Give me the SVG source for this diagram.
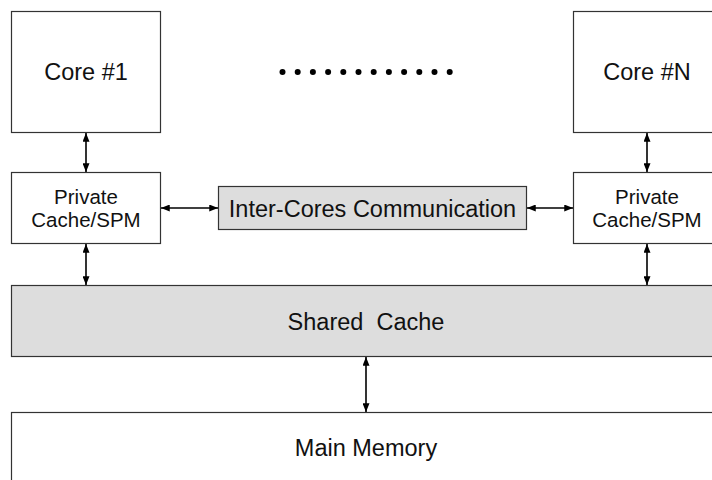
<svg xmlns="http://www.w3.org/2000/svg" width="712" height="480" viewBox="0 0 712 480">
  <style>
    .box { fill: #ffffff; stroke: #333333; stroke-width: 1.2; }
    .grey { fill: #dddddd; stroke: #333333; stroke-width: 1.2; }
    .lbl { font-family: "Liberation Sans", Arial, sans-serif; fill: #111111; text-anchor: middle; }
    .big { font-size: 23.5px; }
    .small { font-size: 20.5px; }
    .link { stroke: #000000; stroke-width: 1.6; fill: none; marker-start: url(#tip); marker-end: url(#tip); }
  </style>
  <defs>
    <marker id="tip" viewBox="0 0 10 8" refX="10" refY="4" markerWidth="10" markerHeight="7" markerUnits="userSpaceOnUse" orient="auto-start-reverse">
      <path d="M0,0 L10,4 L0,8 z" fill="#000000"/>
    </marker>
  </defs>
  <rect width="712" height="480" fill="#ffffff"/>

  <g id="core-1">
    <rect class="box" x="11.5" y="11.5" width="149" height="121"/>
    <text class="lbl big" x="86" y="80">Core #1</text>
  </g>
  <g id="core-n">
    <rect class="box" x="573.5" y="11.5" width="149" height="121"/>
    <text class="lbl big" x="647" y="80">Core #N</text>
  </g>
  <g id="ellipsis" fill="#000000">
    <circle cx="282.5" cy="72" r="3"/>
    <circle cx="297.7" cy="72" r="3"/>
    <circle cx="312.9" cy="72" r="3"/>
    <circle cx="328.1" cy="72" r="3"/>
    <circle cx="343.3" cy="72" r="3"/>
    <circle cx="358.5" cy="72" r="3"/>
    <circle cx="373.7" cy="72" r="3"/>
    <circle cx="388.9" cy="72" r="3"/>
    <circle cx="404.1" cy="72" r="3"/>
    <circle cx="419.3" cy="72" r="3"/>
    <circle cx="434.5" cy="72" r="3"/>
    <circle cx="449.7" cy="72" r="3"/>
  </g>
  <g id="private-1">
    <rect class="box" x="11.5" y="172.5" width="149" height="71"/>
    <text class="lbl small" x="86" y="204">Private</text>
    <text class="lbl small" x="86" y="227">Cache/SPM</text>
  </g>
  <g id="private-n">
    <rect class="box" x="573.5" y="172.5" width="149" height="71"/>
    <text class="lbl small" x="647" y="204">Private</text>
    <text class="lbl small" x="647" y="227">Cache/SPM</text>
  </g>
  <g id="inter-cores">
    <rect class="grey" x="218.5" y="186.5" width="308" height="43"/>
    <text class="lbl big" x="372.5" y="216.5">Inter-Cores Communication</text>
  </g>
  <g id="shared-cache">
    <rect class="grey" x="11.5" y="285.5" width="712" height="71"/>
    <text class="lbl big" x="366" y="330" xml:space="preserve">Shared  Cache</text>
  </g>
  <g id="main-memory">
    <rect class="box" x="11.5" y="412.5" width="712" height="80"/>
    <text class="lbl big" x="366" y="456">Main Memory</text>
  </g>

  <g id="connectors">
    <line class="link" x1="86" y1="133" x2="86" y2="172"/>
    <line class="link" x1="647" y1="133" x2="647" y2="172"/>
    <line class="link" x1="86" y1="244" x2="86" y2="285"/>
    <line class="link" x1="647" y1="244" x2="647" y2="285"/>
    <line class="link" x1="161" y1="208" x2="218" y2="208"/>
    <line class="link" x1="527" y1="208" x2="573" y2="208"/>
    <line class="link" x1="366" y1="357" x2="366" y2="412"/>
  </g>
</svg>
